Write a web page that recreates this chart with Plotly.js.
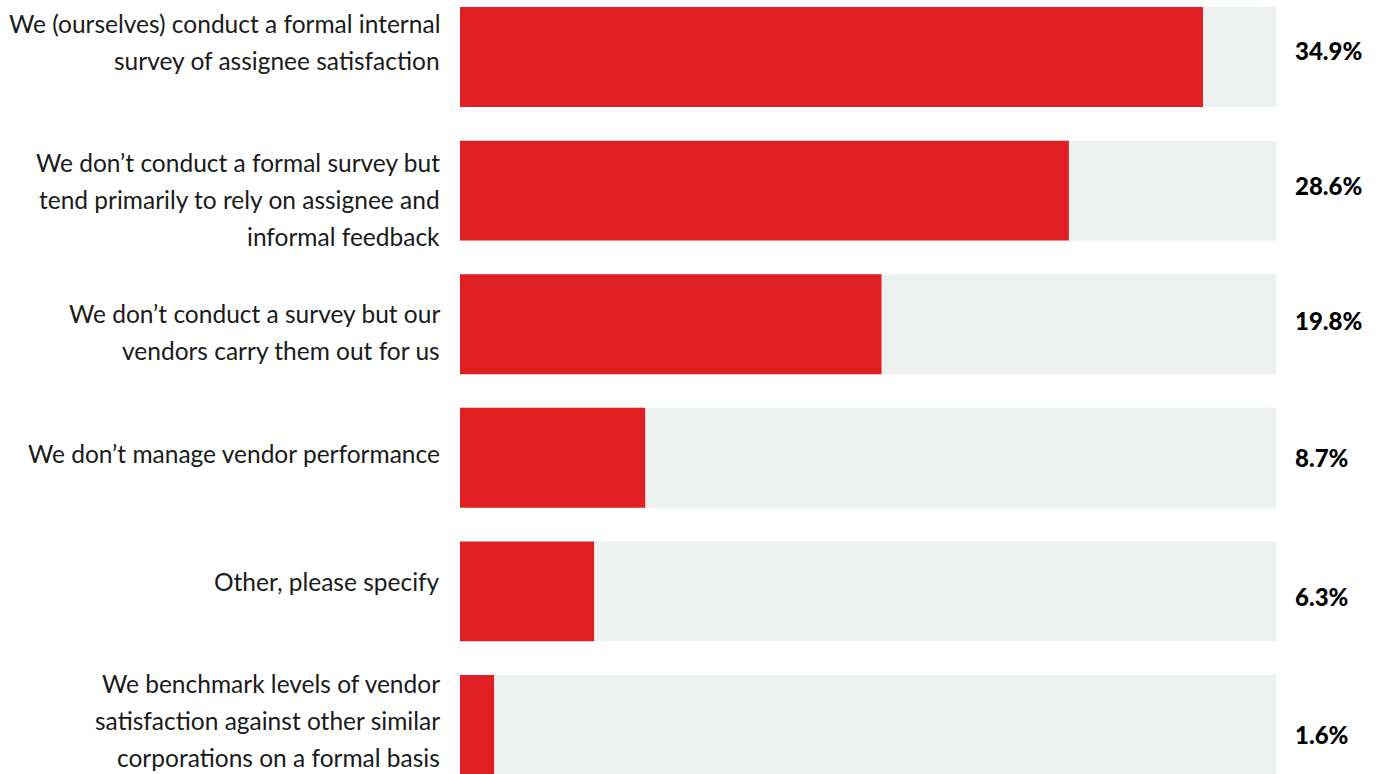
<!DOCTYPE html>
<html>
<head>
<meta charset="utf-8">
<script src="https://cdn.plot.ly/plotly-3.0.1.min.js"></script>
<style>
html,body{margin:0;padding:0;background:#fff;}
#chart{width:1385px;height:774px;}
</style>
</head>
<body>
<div id="chart"></div>
<script>
// ---- data ----
const categories = [
  "We (ourselves) conduct a formal internal survey of assignee satisfaction",
  "We don’t conduct a formal survey but tend primarily to rely on assignee and informal feedback",
  "We don’t conduct a survey but our vendors carry them out for us",
  "We don’t manage vendor performance",
  "Other, please specify",
  "We benchmark levels of vendor satisfaction against other similar corporations on a formal basis"
];
const labelLines = [
  ["We (ourselves) conduct a formal internal", "survey of assignee satisfaction"],
  ["We don’t conduct a formal survey but", "tend primarily to rely on assignee and", "informal feedback"],
  ["We don’t conduct a survey but our", "vendors carry them out for us"],
  ["We don’t manage vendor performance"],
  ["Other, please specify"],
  ["We benchmark levels of vendor", "satisfaction against other similar", "corporations on a formal basis"]
];
const values = [34.9, 28.6, 19.8, 8.7, 6.3, 1.6];
const valueLabels = ["34.9%", "28.6%", "19.8%", "8.7%", "6.3%", "1.6%"];
const trackMax = 38.33;

// ---- style ----
const RED = "#E01F22";
const GREY = "#ECF0EF";
const TEXT = "#1a1a1a";
const labelFont = {family: "Lato, 'Open Sans', sans-serif", size: 24.5, color: TEXT};
const valueFont = {family: "Lato, 'Open Sans', sans-serif", size: 24, color: "#000", weight: 900};
const labelShift = [15, -9, -8, 4, 10, 4];   // fine vertical offsets (px)
const valueShift = [7, 5, 4, 0, -5, -10];
const lineGap = 37;

const track = categories.map(() => trackMax);

const traces = [
  {type: "bar", orientation: "h", y: categories, x: track, marker: {color: GREY},
   width: 0.748, hoverinfo: "skip", showlegend: false},
  {type: "bar", orientation: "h", y: categories, x: values, marker: {color: RED},
   width: 0.748, showlegend: false}
];

const annotations = [];
labelLines.forEach((lines, i) => {
  const n = lines.length;
  lines.forEach((ln, j) => {
    annotations.push({
      xref: "paper", x: 0, xanchor: "right", xshift: -18,
      yref: "y", y: categories[i], yanchor: "middle",
      yshift: labelShift[i] + ((n - 1) / 2 - j) * lineGap,
      text: ln, showarrow: false, font: labelFont, align: "right"
    });
  });
  annotations.push({
    xref: "paper", x: 1, xanchor: "left", xshift: 17,
    yref: "y", y: categories[i], yanchor: "middle", yshift: valueShift[i],
    text: valueLabels[i], showarrow: false, font: valueFont
  });
});

const layout = {
  width: 1385, height: 774,
  margin: {l: 460, r: 109, t: 0, b: 0, pad: 0},
  paper_bgcolor: "#fff", plot_bgcolor: "#fff",
  barmode: "overlay",
  xaxis: {range: [0, trackMax], visible: false, fixedrange: true},
  yaxis: {type: "category", range: [5.367, -0.427], showticklabels: false,
          showgrid: false, zeroline: false, showline: false, ticks: "", fixedrange: true},
  annotations: annotations,
  showlegend: false
};

Plotly.newPlot("chart", traces, layout, {displayModeBar: false, staticPlot: true});
</script>
</body>
</html>
